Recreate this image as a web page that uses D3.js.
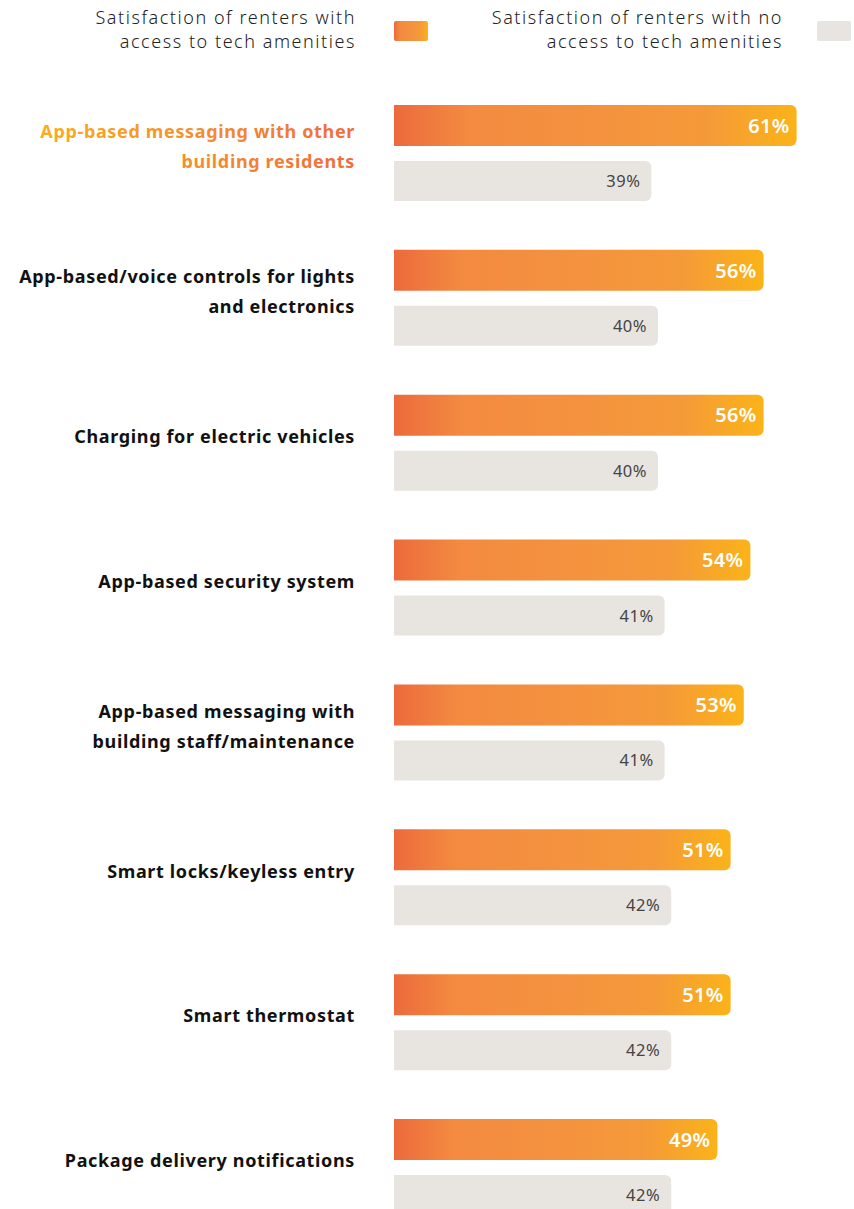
<!DOCTYPE html>
<html>
<head>
<meta charset="utf-8">
<script src="https://cdn.jsdelivr.net/npm/d3@7"></script>
<style>
  html, body { margin: 0; padding: 0; background: #ffffff; }
  svg { display: block; }
</style>
</head>
<body>
<svg id="chart" width="854" height="1209"></svg>
<script>
// Amenity categories (line breaks mark how each label wraps)
const categories = [
  "App-based messaging with other\nbuilding residents",
  "App-based/voice controls for lights\nand electronics",
  "Charging for electric vehicles",
  "App-based security system",
  "App-based messaging with\nbuilding staff/maintenance",
  "Smart locks/keyless entry",
  "Smart thermostat",
  "Package delivery notifications"
];

// Satisfaction (%) of renters who have access to each amenity
const withAccess = [61, 56, 56, 54, 53, 51, 51, 49];

// Satisfaction (%) of renters without access to each amenity
const withoutAccess = [39, 40, 40, 41, 41, 42, 42, 42];

// Legend entries
const seriesNames = [
  "Satisfaction of renters with\naccess to tech amenities",
  "Satisfaction of renters with no\naccess to tech amenities"
];

// Highlighted category
const highlighted = categories[0];

const svg = d3.select("#chart");
const FONT = "'Noto Sans', 'Open Sans', sans-serif";
const GRAY = "#e8e5e1";

const defs = svg.append("defs");
const grad = defs.append("linearGradient").attr("id", "barGrad")
  .attr("x1", "0%").attr("x2", "100%").attr("y1", "0%").attr("y2", "0%");
grad.selectAll("stop")
  .data([
    { o: "0%", c: "#ec6a3c" },
    { o: "18%", c: "#f38a40" },
    { o: "50%", c: "#f4923f" },
    { o: "78%", c: "#f59a38" },
    { o: "100%", c: "#fbb319" }
  ])
  .join("stop").attr("offset", d => d.o).attr("stop-color", d => d.c);

const labelGrad = defs.append("linearGradient").attr("id", "labelGrad")
  .attr("x1", "0%").attr("x2", "100%").attr("y1", "0%").attr("y2", "0%");
labelGrad.selectAll("stop")
  .data([{ o: "0%", c: "#f9ae1e" }, { o: "100%", c: "#ee6d3c" }])
  .join("stop").attr("offset", d => d.o).attr("stop-color", d => d.c);

// Scales
const x = d3.scaleLinear().domain([0, 100]).range([394, 1054]);
const y = d3.scalePoint().domain(categories).range([105, 1119]);
const barH = 41, grayH = 40, grayOffset = 56, radius = 6;

// Bar with square left end and rounded right corners
function barPath(x0, x1, y0, h, r) {
  const p = d3.path();
  p.moveTo(x0, y0);
  p.lineTo(x1 - r, y0);
  p.arcTo(x1, y0, x1, y0 + r, r);
  p.lineTo(x1, y0 + h - r);
  p.arcTo(x1, y0 + h, x1 - r, y0 + h, r);
  p.lineTo(x0, y0 + h);
  p.closePath();
  return p.toString();
}

const rows = categories.map((c, i) => ({ c, a: withAccess[i], b: withoutAccess[i] }));

const g = svg.append("g");
const row = g.selectAll("g.row").data(rows).join("g").attr("class", "row");

// Bars for renters with access
row.append("path")
  .attr("d", d => barPath(x(0), x(d.a), y(d.c), barH, radius))
  .attr("fill", "url(#barGrad)");

row.append("text")
  .attr("x", d => x(d.a) - 7)
  .attr("y", d => y(d.c) + barH / 2)
  .attr("dy", "0.36em")
  .attr("text-anchor", "end")
  .attr("font-family", FONT)
  .attr("font-weight", 600)
  .attr("font-size", 20)
  .attr("letter-spacing", 0.3)
  .attr("fill", "#ffffff")
  .text(d => d.a + "%");

// Bars for renters without access
row.append("path")
  .attr("d", d => barPath(x(0), x(d.b), y(d.c) + grayOffset, grayH, radius))
  .attr("fill", GRAY);

row.append("text")
  .attr("x", d => x(d.b) - 11)
  .attr("y", d => y(d.c) + grayOffset + grayH / 2)
  .attr("dy", "0.36em")
  .attr("text-anchor", "end")
  .attr("font-family", FONT)
  .attr("font-size", 16.5)
  .attr("letter-spacing", 0.5)
  .attr("fill", "#444444")
  .text(d => d.b + "%");

// Category labels
const lineGap = 30;
row.append("text")
  .attr("text-anchor", "end")
  .attr("font-family", FONT)
  .attr("font-weight", 700)
  .attr("font-size", 18)
  .attr("letter-spacing", 0.65)
  .attr("fill", d => d.c === highlighted ? "url(#labelGrad)" : "#111111")
  .each(function (d) {
    const lines = d.c.split("\n");
    const cy = y(d.c) + (grayOffset + grayH) / 2 - 6;
    const start = cy - (lines.length - 1) * lineGap / 2;
    d3.select(this).selectAll("tspan").data(lines).join("tspan")
      .attr("x", 355)
      .attr("y", (l, k) => start + k * lineGap)
      .attr("dy", "0.35em")
      .text(l => l);
  });

// Legend
const legend = svg.append("g");
const legendItems = [
  { name: seriesNames[0], textX: 356, swX: 394, fill: "url(#barGrad)" },
  { name: seriesNames[1], textX: 783, swX: 817, fill: GRAY }
];
const li = legend.selectAll("g").data(legendItems).join("g");
li.append("rect")
  .attr("x", d => d.swX).attr("y", 21)
  .attr("width", 34).attr("height", 20)
  .attr("rx", 2)
  .attr("fill", d => d.fill);
li.append("text")
  .attr("text-anchor", "end")
  .attr("font-family", FONT)
  .attr("font-weight", 300)
  .attr("font-size", 18)
  .attr("letter-spacing", 1.55)
  .attr("fill", "#222222")
  .each(function (d) {
    d3.select(this).selectAll("tspan").data(d.name.split("\n")).join("tspan")
      .attr("x", d.textX)
      .attr("y", (l, k) => 18 + k * 24)
      .attr("dy", "0.35em")
      .text(l => l);
  });
</script>
</body>
</html>
